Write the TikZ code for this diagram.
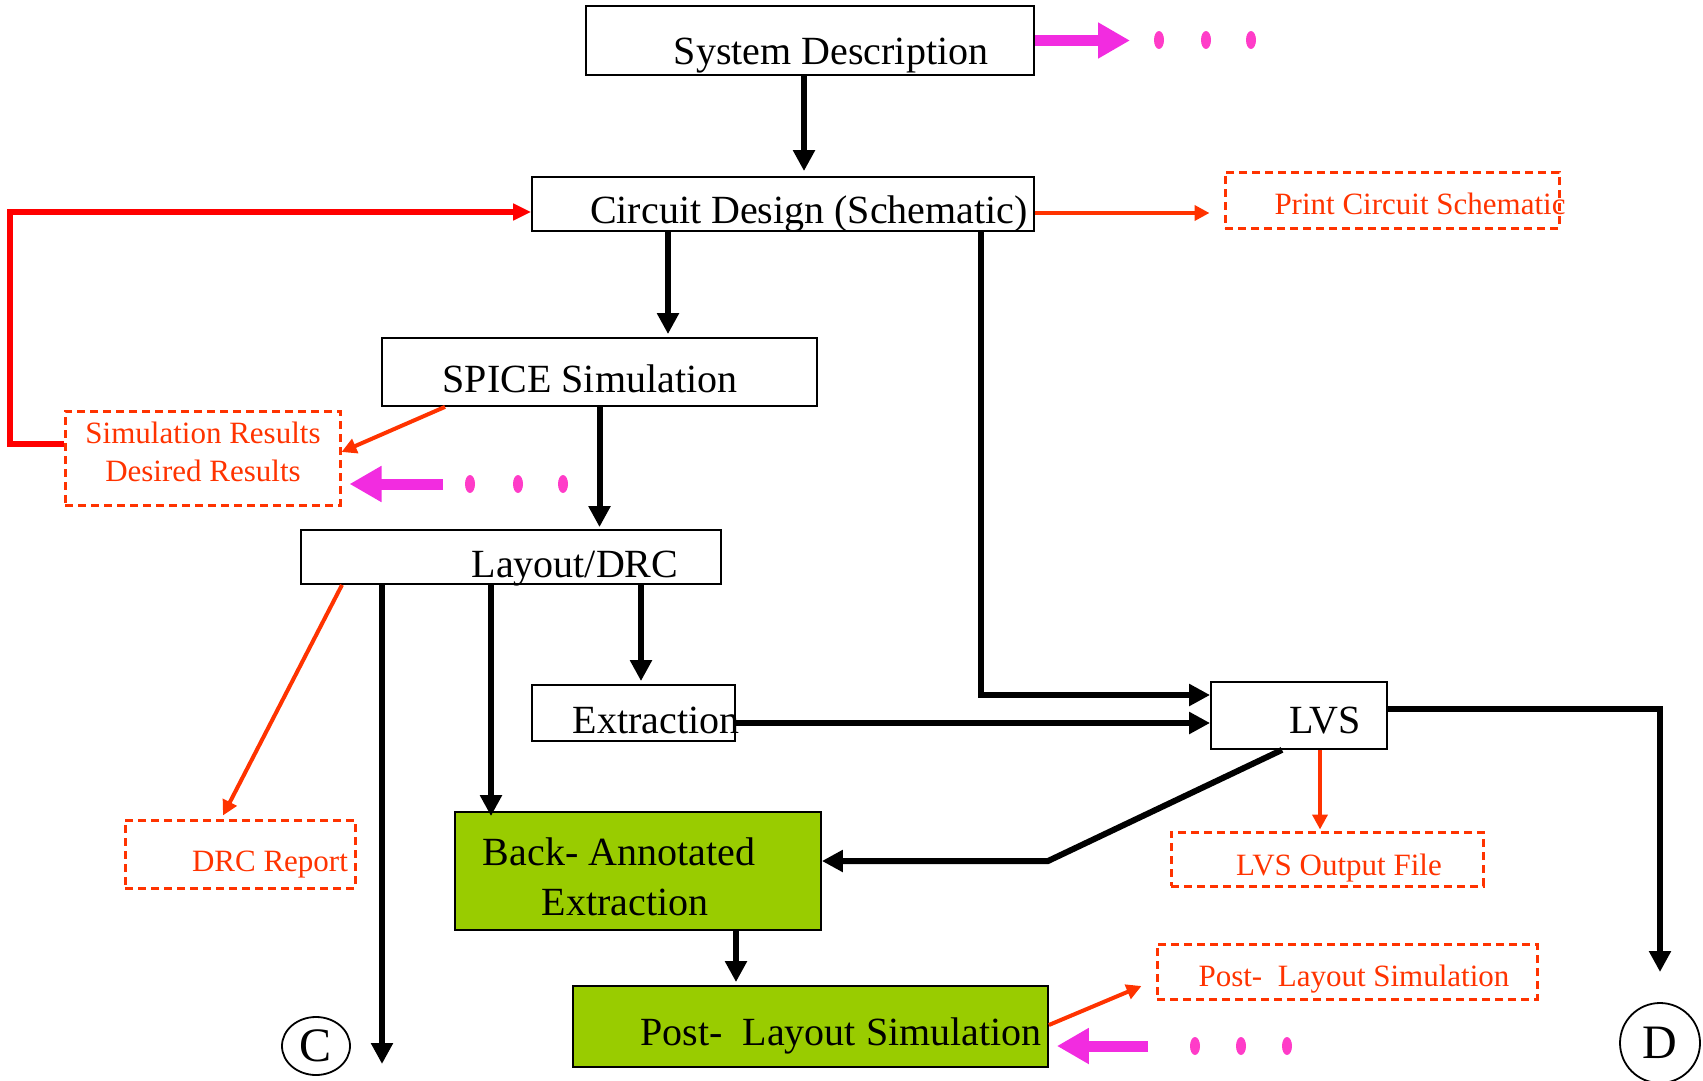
\documentclass[tikz,border=0pt]{standalone}
\usepackage{fontspec}
\setmainfont{Liberation Serif}
\usetikzlibrary{arrows.meta,shapes.geometric}
\definecolor{flowred}{HTML}{FF3300}
\definecolor{loopred}{HTML}{FF0000}
\definecolor{pinkarrow}{HTML}{F22CE0}
\definecolor{pinkdot}{HTML}{FF3CC8}
\definecolor{backgreen}{HTML}{99CC00}
\newcommand{\bigtxt}{\fontsize{40}{46}\selectfont}
\newcommand{\smalltxt}{\fontsize{31}{36}\selectfont}

\begin{document}
\begin{tikzpicture}[x=1pt,y=-1pt,
    stepbox/.style={draw=black, line width=1.8pt, inner sep=0pt},
    greenbox/.style={stepbox, fill=backgreen},
    outbox/.style={draw=flowred, line width=3pt, dash pattern=on 8pt off 5pt, inner sep=0pt},
    bigtext/.style={font=\bigtxt, anchor=base, inner sep=0pt},
    smalltext/.style={font=\smalltxt, text=flowred, anchor=base, inner sep=0pt},
    letter/.style={draw=black, ellipse, line width=1.8pt, inner sep=0pt, font=\fontsize{48}{48}\selectfont},
    flow/.style={line width=6pt, -{Triangle[length=21pt,width=21pt]}},
    report/.style={draw=flowred, line width=4pt, -{Triangle[length=15pt,width=15pt]}},
    more/.style={draw=pinkarrow, line width=11pt, -{Triangle[length=32pt,width=34pt]}}]
    \useasboundingbox (0,0) rectangle (1703,1081);

    % main flow boxes
    \node[stepbox, minimum width=448pt, minimum height=69pt] (sys) at (810,40.5) {};
      \node[bigtext] (sysT) at (831,65) {System Description};
    \node[stepbox, minimum width=502pt, minimum height=54pt] (cir) at (783,204) {};
      \node[bigtext] (cirT) at (809,223) {Circuit Design (Schematic)};
    \node[stepbox, minimum width=435pt, minimum height=68pt] (spice) at (599.5,372) {};
      \node[bigtext] (spiceT) at (590,392) {SPICE Simulation};
    \node[stepbox, minimum width=420pt, minimum height=54pt] (lay) at (511,557) {};
      \node[bigtext] (layT) at (575,577) {Layout/DRC};
    \node[stepbox, minimum width=203pt, minimum height=56pt] (ext) at (633.5,713) {};
      \node[bigtext] (extT) at (656,733) {Extraction};
    \node[stepbox, minimum width=176pt, minimum height=67pt] (lvs) at (1299,715.5) {};
      \node[bigtext] (lvsT) at (1325,733) {LVS};
    \node[greenbox, minimum width=366pt, minimum height=118pt] (bae) at (638,871) {};
      \node[bigtext] (baeT) at (619,865) {Back- Annotated};
      \node[bigtext] (baeU) at (625,915) {Extraction};
    \node[greenbox, minimum width=475pt, minimum height=81pt] (pls) at (810.5,1026.5) {};
      \node[bigtext] (plsT) at (841,1045) {Post-\ \ Layout Simulation};

    % output files
    \node[outbox, minimum width=334pt, minimum height=56pt] (pcs) at (1392,200) {};
      \node[smalltext] (pcsT) at (1420,214) {Print Circuit Schematic};
    \node[outbox, minimum width=275pt, minimum height=94pt] (simres) at (202.5,458) {};
      \node[smalltext] (simresT) at (203,443) {Simulation Results};
      \node[smalltext] (simresU) at (203,481) {Desired Results};
    \node[outbox, minimum width=230pt, minimum height=68pt] (drc) at (240,854) {};
      \node[smalltext] (drcT) at (270,871) {DRC Report};
    \node[outbox, minimum width=312pt, minimum height=54pt] (lvsout) at (1327,859) {};
      \node[smalltext] (lvsoutT) at (1339,875) {LVS Output File};
    \node[outbox, minimum width=380pt, minimum height=55pt] (plsout) at (1347,971.5) {};
      \node[smalltext] (plsoutT) at (1354,986) {Post-\ \ Layout Simulation};

    % off-page connectors
    \node[letter, minimum width=68pt, minimum height=58pt] (C) at (316,1046) {C};
    \node[letter, minimum width=80pt, minimum height=80pt] (D) at (1660,1043) {D};
    \coordinate (toC) at (382,1064);
    \coordinate (toD) at (1660,972);
    \coordinate (sysMore) at (1130,40.5);
    \coordinate (simMore) at (443,484);
    \coordinate (plsMore) at (1148,1046);

    % black connectors
    \draw[flow, shorten >=5pt] ([xshift=-6pt]sys.south) -- ([xshift=-6pt]sys.south |- cir.north);
    \draw[flow, shorten >=3pt] ([xshift=-115pt]cir.south) -- ([xshift=-115pt]cir.south |- spice.north);
    \draw[flow] ([xshift=198pt]cir.south) |- ([yshift=20.5pt]lvs.west);
    \draw[flow, shorten >=2pt] (spice.south) -- (spice.south |- lay.north);
    \draw[flow] ([xshift=-129pt]lay.south) -- (toC);
    \draw[flow, shorten >=-5pt] ([xshift=-20pt]lay.south) -- ([xshift=-20pt]lay.south |- bae.north);
    \draw[flow, shorten >=3pt] ([xshift=130pt]lay.south) -- ([xshift=130pt]lay.south |- ext.north);
    \draw[flow] ([yshift=-10pt]ext.east) -- ([yshift=-10pt]ext.east -| lvs.west);
    \draw[flow] ([yshift=6.5pt]lvs.east) -| (toD);
    \draw[flow] ([xshift=-17pt]lvs.south) -- (1048,861) -- ([yshift=10pt]bae.east);
    \draw[flow, shorten >=3pt] ([xshift=98pt]bae.south) -- ([xshift=98pt]bae.south |- pls.north);

    % red connectors
    \draw[loopred, line width=6pt, -{Triangle[length=18pt,width=16pt]}]
      ([yshift=14pt]simres.west) -- ++(-54,0) |- ([yshift=-8pt]cir.west);
    \draw[report, shorten >=14pt] ([yshift=-9pt]cir.east) -- ([yshift=-9pt]cir.east -| pcs.west);
    \draw[report] ([xshift=-154.5pt]spice.south) -- ([yshift=6pt]simres.east);
    \draw[report] ([xshift=-169pt]lay.south) -- ([xshift=-17pt,yshift=3pt]drc.north);
    \draw[report, shorten >=1pt] ([xshift=21pt]lvs.south) -- ([xshift=21pt]lvs.south |- lvsout.north);
    \draw[report] ([yshift=1.5pt]pls.east) -- ([xshift=-14pt,yshift=-14.5pt]plsout.west);

    % pink continuation arrows
    \draw[more] (sys.east) -- (sysMore);
    \draw[more, shorten >=8pt] (simMore) -- ([yshift=-26pt]simres.east);
    \draw[more, shorten >=8pt] (plsMore) -- ([yshift=-19.5pt]pls.east);
    \fill[pinkdot] (1159,40) ellipse [x radius=5, y radius=9];
    \fill[pinkdot] (1206,40) ellipse [x radius=5, y radius=9];
    \fill[pinkdot] (1251,40) ellipse [x radius=5, y radius=9];
    \fill[pinkdot] (470,484) ellipse [x radius=5, y radius=9];
    \fill[pinkdot] (518,484) ellipse [x radius=5, y radius=9];
    \fill[pinkdot] (563,484) ellipse [x radius=5, y radius=9];
    \fill[pinkdot] (1195,1046) ellipse [x radius=5, y radius=9];
    \fill[pinkdot] (1241,1046) ellipse [x radius=5, y radius=9];
    \fill[pinkdot] (1287,1046) ellipse [x radius=5, y radius=9];
\end{tikzpicture}
\end{document}
